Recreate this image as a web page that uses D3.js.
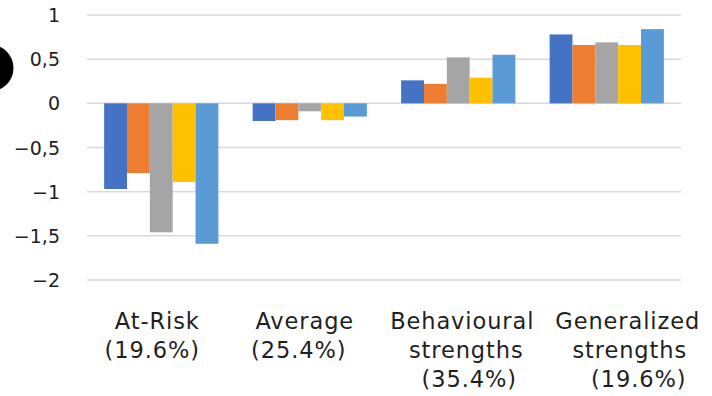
<!DOCTYPE html>
<html>
<head>
<meta charset="utf-8">
<script src="https://cdn.jsdelivr.net/npm/d3@7"></script>
<style>
  html, body { margin: 0; padding: 0; background: #fff; }
  svg { display: block; }
  text { font-family: "DejaVu Sans", "Noto Sans", sans-serif; fill: #1f1f1f; }
</style>
</head>
<body>
<div id="chart"></div>
<script>
// Profile groups and their mean scores on five indicators
const categories = ["At-Risk", "Average", "Behavioural strengths", "Generalized strengths"];
const categoryLines = [
  ["At-Risk", "(19.6%)"],
  ["Average", "(25.4%)"],
  ["Behavioural", "strengths", "(35.4%)"],
  ["Generalized", "strengths", "(19.6%)"]
];
const seriesNames = ["S1", "S2", "S3", "S4", "S5"];
const seriesColors = ["#4472C4", "#ED7D31", "#A5A5A5", "#FFC000", "#5B9BD5"];
const s1 = [-0.97, -0.20, 0.26, 0.78];
const s2 = [-0.79, -0.19, 0.22, 0.66];
const s3 = [-1.46, -0.09, 0.52, 0.69];
const s4 = [-0.89, -0.19, 0.29, 0.66];
const s5 = [-1.59, -0.15, 0.55, 0.84];
const seriesValues = [s1, s2, s3, s4, s5];
const yTicks = [1, 0.5, 0, -0.5, -1, -1.5, -2];

const W = 712, H = 396;
const margin = { left: 87, right: 31, top: 15, bottom: 116 };

const svg = d3.select("#chart").append("svg")
  .attr("width", W).attr("height", H);

const x0 = d3.scaleBand().domain(categories)
  .range([margin.left, W - margin.right]).paddingInner(0).paddingOuter(0);
// 150% gap between clusters: 0.75 bar width on each side
const x1 = d3.scaleBand().domain(seriesNames)
  .range([0, x0.bandwidth()]).paddingInner(0).paddingOuter(0.75);
const y = d3.scaleLinear().domain([-2, 1]).range([H - margin.bottom, margin.top]);

// gridlines
svg.append("g").selectAll("line").data(yTicks).join("line")
  .attr("x1", margin.left).attr("x2", W - margin.right)
  .attr("y1", d => y(d)).attr("y2", d => y(d))
  .attr("stroke", "#d9d9d9").attr("stroke-width", 1.5);

// y axis labels
const fmt = d => (d < 0 ? "\u2212" : "") + String(Math.abs(d)).replace(".", ",");
const yAxis = d3.axisLeft(y).tickValues(yTicks).tickFormat(fmt).tickSize(0).tickPadding(0);
const yg = svg.append("g").attr("transform", `translate(${margin.left - 27},0)`).call(yAxis);
yg.select(".domain").remove();
yg.selectAll("text").style("font-size", "19px").style("font-family", "'DejaVu Sans', sans-serif")
  .attr("fill", "#1f1f1f").attr("dy", "0.35em");

// bars
const groups = svg.append("g").selectAll("g").data(categories).join("g")
  .attr("transform", d => `translate(${x0(d)},0)`);
groups.selectAll("rect")
  .data((c, ci) => seriesNames.map((s, si) => ({ s, si, v: seriesValues[si][ci] })))
  .join("rect")
  .attr("x", d => x1(d.s))
  .attr("width", x1.bandwidth())
  .attr("y", d => y(Math.max(0, d.v)))
  .attr("height", d => Math.abs(y(d.v) - y(0)))
  .attr("fill", d => seriesColors[d.si]);

// category labels, wrapped over several lines
const lineShift = [[-4, -9], [-5, -11], [4, 8, 11], [21, 23, 32]];
const labels = svg.append("g");
categories.forEach((c, ci) => {
  const cx = x0(c) + x0.bandwidth() / 2;
  const t = labels.append("text").attr("text-anchor", "middle")
    .style("font-size", "22.5px").style("letter-spacing", "0.9px");
  categoryLines[ci].forEach((ln, li) => {
    t.append("tspan").attr("x", cx + lineShift[ci][li])
      .attr("y", 329 + li * 29).text(ln);
  });
});

// dark marker at the left edge
svg.append("ellipse").attr("cx", -10).attr("cy", 68).attr("rx", 23.5).attr("ry", 23.5)
  .attr("fill", "#000");
</script>
</body>
</html>
